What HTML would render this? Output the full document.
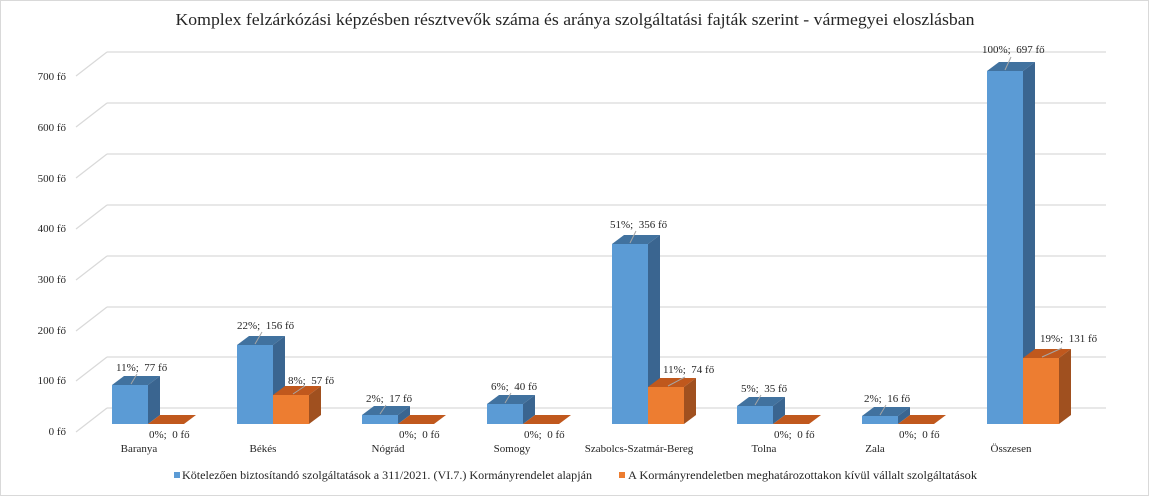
<!DOCTYPE html>
<html><head><meta charset="utf-8"><style>
html,body{margin:0;padding:0;background:#fff}
svg{display:block}
text{font-family:"Liberation Serif",serif;fill:#262626}
</style></head><body>
<svg width="1149" height="496" viewBox="0 0 1149 496" xmlns="http://www.w3.org/2000/svg">
<rect x="0.5" y="0.5" width="1148" height="495" fill="#fff" stroke="#d9d9d9"/>
<text x="575" y="25" text-anchor="middle" font-size="17" textLength="799" lengthAdjust="spacingAndGlyphs">Komplex felzárkózási képzésben résztvevők száma és aránya szolgáltatási fajták szerint -  vármegyei eloszlásban</text>
<g stroke="#d9d9d9" stroke-width="1.2" fill="none">
<path d="M107 408H1106M107 357H1106M107 307H1106M107 256H1106M107 205H1106M107 154H1106M107 103H1106M107 52H1106"/>
<path d="M107 408L76 432M107 357L76 381M107 307L76 331M107 256L76 280M107 205L76 229M107 154L76 178M107 103L76 127M107 52L76 76"/>
</g>
<g font-size="11" text-anchor="end">
<text x="66" y="435">0 fő</text><text x="66" y="384">100 fő</text><text x="66" y="334">200 fő</text><text x="66" y="283">300 fő</text><text x="66" y="232">400 fő</text><text x="66" y="182">500 fő</text><text x="66" y="131">600 fő</text><text x="66" y="80">700 fő</text>
</g>
<g>
<rect x="112" y="385" width="36" height="39" fill="#5b9bd5"/><polygon points="112,385 124,376 160,376 148,385" fill="#41729f"/><polygon points="148,385 160,376 160,415 148,424" fill="#3a6590"/>
<polygon points="148,424 160,415 196,415 184,424" fill="#c0581d"/>
<rect x="237" y="345" width="36" height="79" fill="#5b9bd5"/><polygon points="237,345 249,336 285,336 273,345" fill="#41729f"/><polygon points="273,345 285,336 285,415 273,424" fill="#3a6590"/>
<rect x="273" y="395" width="36" height="29" fill="#ed7d31"/><polygon points="273,395 285,386 321,386 309,395" fill="#c0581d"/><polygon points="309,395 321,386 321,415 309,424" fill="#a0501f"/>
<rect x="362" y="415" width="36" height="9" fill="#5b9bd5"/><polygon points="362,415 374,406 410,406 398,415" fill="#41729f"/><polygon points="398,415 410,406 410,415 398,424" fill="#3a6590"/>
<polygon points="398,424 410,415 446,415 434,424" fill="#c0581d"/>
<rect x="487" y="404" width="36" height="20" fill="#5b9bd5"/><polygon points="487,404 499,395 535,395 523,404" fill="#41729f"/><polygon points="523,404 535,395 535,415 523,424" fill="#3a6590"/>
<polygon points="523,424 535,415 571,415 559,424" fill="#c0581d"/>
<rect x="612" y="244" width="36" height="180" fill="#5b9bd5"/><polygon points="612,244 624,235 660,235 648,244" fill="#41729f"/><polygon points="648,244 660,235 660,415 648,424" fill="#3a6590"/>
<rect x="648" y="387" width="36" height="37" fill="#ed7d31"/><polygon points="648,387 660,378 696,378 684,387" fill="#c0581d"/><polygon points="684,387 696,378 696,415 684,424" fill="#a0501f"/>
<rect x="737" y="406" width="36" height="18" fill="#5b9bd5"/><polygon points="737,406 749,397 785,397 773,406" fill="#41729f"/><polygon points="773,406 785,397 785,415 773,424" fill="#3a6590"/>
<polygon points="773,424 785,415 821,415 809,424" fill="#c0581d"/>
<rect x="862" y="416" width="36" height="8" fill="#5b9bd5"/><polygon points="862,416 874,407 910,407 898,416" fill="#41729f"/><polygon points="898,416 910,407 910,415 898,424" fill="#3a6590"/>
<polygon points="898,424 910,415 946,415 934,424" fill="#c0581d"/>
<rect x="987" y="71" width="36" height="353" fill="#5b9bd5"/><polygon points="987,71 999,62 1035,62 1023,71" fill="#41729f"/><polygon points="1023,71 1035,62 1035,415 1023,424" fill="#3a6590"/>
<rect x="1023" y="358" width="36" height="66" fill="#ed7d31"/><polygon points="1023,358 1035,349 1071,349 1059,358" fill="#c0581d"/><polygon points="1059,358 1071,349 1071,415 1059,424" fill="#a0501f"/>
</g>
<g stroke="#a6a6a6" stroke-width="1">
<path d="M131 384L137 374M255 344L262 332M380 414L386 405M505 403L511 393M630 243L636 231M755 405L761 395M880 415L886 405M1005 70L1011 57M293 394L305 386M668 386L685 377M1042 357L1062 348"/>
</g>
<g font-size="11">
<text x="116" y="371">11%;&#160; 77 fő</text>
<text x="237" y="329">22%;&#160; 156 fő</text>
<text x="366" y="402">2%;&#160; 17 fő</text>
<text x="491" y="390">6%;&#160; 40 fő</text>
<text x="610" y="228">51%;&#160; 356 fő</text>
<text x="741" y="392">5%;&#160; 35 fő</text>
<text x="864" y="402">2%;&#160; 16 fő</text>
<text x="982" y="53">100%;&#160; 697 fő</text>
<text x="288" y="384">8%;&#160; 57 fő</text>
<text x="663" y="373">11%;&#160; 74 fő</text>
<text x="1040" y="342">19%;&#160; 131 fő</text>
<text x="149" y="438">0%;&#160; 0 fő</text>
<text x="399" y="438">0%;&#160; 0 fő</text>
<text x="524" y="438">0%;&#160; 0 fő</text>
<text x="774" y="438">0%;&#160; 0 fő</text>
<text x="899" y="438">0%;&#160; 0 fő</text>
</g>
<g font-size="11" text-anchor="middle">
<text x="139" y="452">Baranya</text>
<text x="263" y="452">Békés</text>
<text x="388" y="452">Nógrád</text>
<text x="512" y="452">Somogy</text>
<text x="639" y="452">Szabolcs-Szatmár-Bereg</text>
<text x="764" y="452">Tolna</text>
<text x="875" y="452">Zala</text>
<text x="1011" y="452">Összesen</text>
</g>
<rect x="174" y="472" width="6" height="6" fill="#5b9bd5"/>
<text x="182" y="479" font-size="11.5" textLength="410" lengthAdjust="spacingAndGlyphs">Kötelezően biztosítandó szolgáltatások a 311/2021. (VI.7.) Kormányrendelet alapján</text>
<rect x="619" y="472" width="6" height="6" fill="#ed7d31"/>
<text x="628" y="479" font-size="11.5" textLength="349" lengthAdjust="spacingAndGlyphs">A Kormányrendeletben meghatározottakon kívül vállalt szolgáltatások</text>
</svg>
</body></html>
